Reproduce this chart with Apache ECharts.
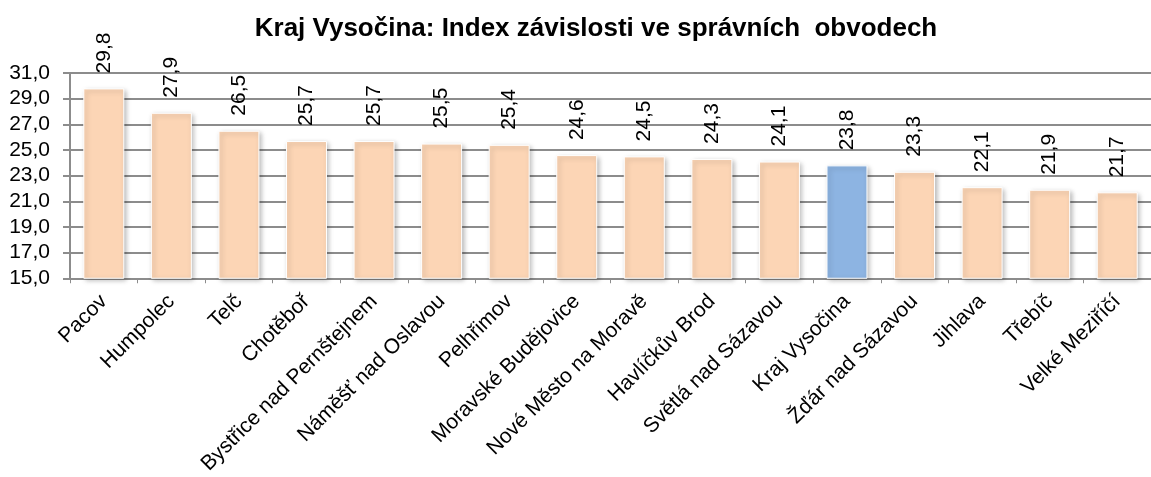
<!DOCTYPE html>
<html>
<head>
<meta charset="utf-8">
<script src="https://cdn.jsdelivr.net/npm/echarts@6/dist/echarts.min.js"></script>
<style>
  html, body { margin: 0; padding: 0; background: #fff; }
  #chart { width: 1151px; height: 477px; }
</style>
</head>
<body>
<div id="chart"></div>
<script>
// data
const categories = ["Pacov", "Humpolec", "Telč", "Chotěboř", "Bystřice nad Pernštejnem",
  "Náměšť nad Oslavou", "Pelhřimov", "Moravské Budějovice", "Nové Město na Moravě",
  "Havlíčkův Brod", "Světlá nad Sázavou", "Kraj Vysočina", "Žďár nad Sázavou",
  "Jihlava", "Třebíč", "Velké Meziříčí"]
const values = [29.8, 27.9, 26.5, 25.7, 25.7, 25.5, 25.4, 24.6, 24.5, 24.3, 24.1, 23.8, 23.3, 22.1, 21.9, 21.7]
const highlight = "Kraj Vysočina"
const yMin = 15, yMax = 31, yStep = 2

const font = "'Liberation Sans', Arial, sans-serif"
const peach = "#FCD5B5"
const blue = "#8DB4E2"
const grey = "#8c8c8c"

let fmt = v => v.toFixed(1).replace(".", ",")

const chart = echarts.init(document.getElementById("chart"), null, { renderer: "canvas" })

const option = {
  animation: false,
  title: {
    text: "Kraj Vysočina: Index závislosti ve správních  obvodech",
    left: 591,
    top: 11,
    textAlign: "center",
    textStyle: { fontFamily: font, fontSize: 26, fontWeight: "bold", color: "#000" }
  },
  grid: { left: 70, top: 73, width: 1088, height: 207 },
  xAxis: {
    type: "category",
    data: categories,
    axisLine: { lineStyle: { color: grey, width: 2 } },
    axisTick: { show: true, length: 5, alignWithLabel: false, lineStyle: { color: grey, width: 1 } },
    axisLabel: {
      interval: 0, rotate: 45, margin: 20,
      fontFamily: font, fontSize: 21, color: "#000"
    }
  },
  yAxis: {
    type: "value",
    min: yMin, max: yMax, interval: yStep,
    axisLine: { show: true, lineStyle: { color: grey, width: 2 } },
    axisTick: { show: true, length: 7, lineStyle: { color: grey, width: 2 } },
    splitLine: { lineStyle: { color: grey, width: 2 } },
    axisLabel: {
      margin: 20, fontFamily: font, fontSize: 21, color: "#000",
      formatter: v => fmt(v)
    }
  },
  series: [{
    type: "bar",
    barWidth: 41,
    data: values.map((v, i) => ({
      value: v,
      itemStyle: { color: categories[i] === highlight ? blue : peach }
    })),
    itemStyle: {
      borderColor: "#fff", borderWidth: 1,
      shadowColor: "rgba(0,0,0,0.3)", shadowBlur: 5, shadowOffsetX: 2, shadowOffsetY: 2
    },
    label: {
      show: true, position: "top", rotate: 90, distance: 15,
      align: "left", verticalAlign: "middle",
      fontFamily: font, fontSize: 21, color: "#000",
      formatter: p => fmt(p.value)
    }
  }]
}

chart.setOption(option)
</script>
</body>
</html>
